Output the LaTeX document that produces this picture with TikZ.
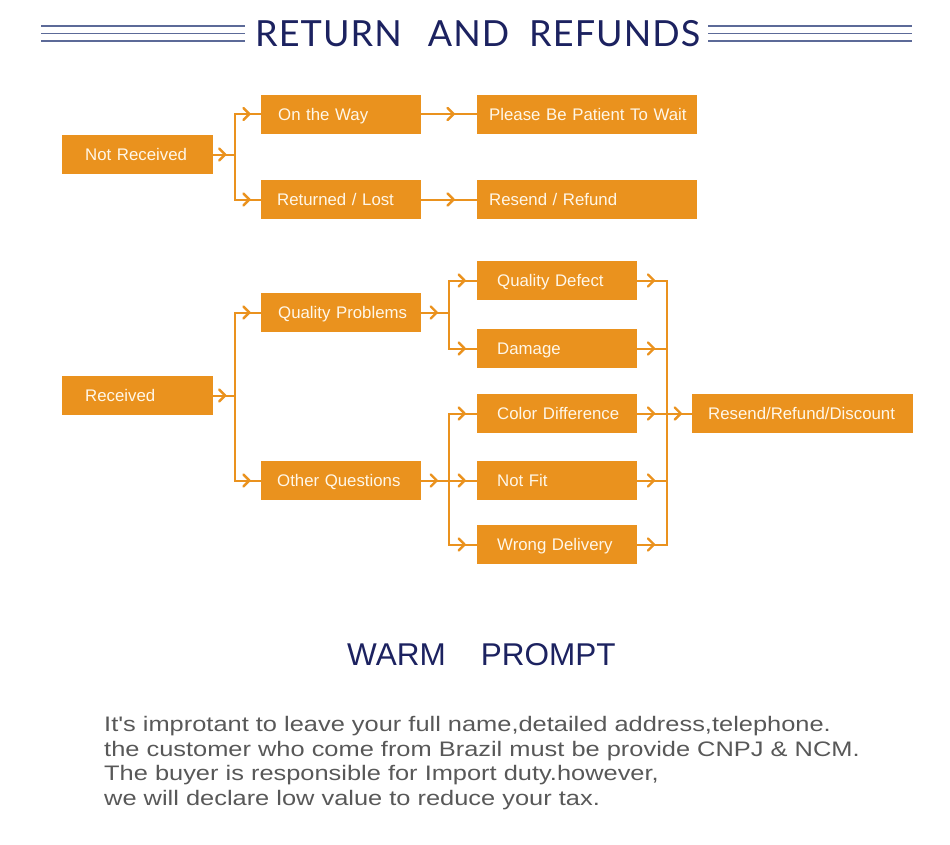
\documentclass[tikz,border=0pt]{standalone}
\usepackage{fontspec}
\setmainfont{Liberation Sans}[Ligatures=TeXOff]
\newfontfamily\titlefont{Lato}[LetterSpace=3]
\newfontfamily\notefont{Liberation Sans}[Ligatures=TeXOff, FakeStretch=1.21]
\usetikzlibrary{arrows.meta,decorations.markings}

\definecolor{boxorange}{RGB}{234,146,30}
\definecolor{boxtext}{RGB}{255,247,232}
\definecolor{navy}{RGB}{28,34,96}
\definecolor{rulegrey}{RGB}{92,106,152}
\definecolor{bodygrey}{RGB}{88,88,88}

\tikzset{
  box/.style 2 args={fill=boxorange, text=boxtext, anchor=west,
    minimum height=39pt, inner sep=0pt, text width=#1, align=left,
    text height=12pt, text depth=0pt,
    font=\fontsize{16.8}{20}\selectfont,
    execute at begin node={\hspace*{#2}}},
  flow/.style={draw=boxorange, line width=2pt, postaction={decorate},
    decoration={markings, mark=at position 0.6 with
      {\arrow{Straight Barb[length=6pt,width=12pt,line width=2.4pt,round]}}}},
  bus/.style={draw=boxorange, line width=2pt, line cap=rect},
  rule/.style={draw=rulegrey, line width=1.6pt},
}

\begin{document}
\begin{tikzpicture}[x=1pt,y=-1pt]
\useasboundingbox (0,0) rectangle (950,844);

% title
\foreach \y in {26,33.5,41}{
  \draw[rule] (41,\y) -- (245,\y);
  \draw[rule] (708,\y) -- (912,\y);
}
\node[font=\titlefont\fontsize{36}{40}\selectfont, text=navy, anchor=base west, inner sep=0pt]
  (title) at (255,46) {RETURN\hspace{26pt}AND\hspace{20pt}REFUNDS};

% not received
\node[box={151pt}{23pt}] (nr) at (62,154.5) {Not Received};
\node[box={160pt}{17pt}] (otw) at (261,114) {On the Way};
\node[box={160pt}{16pt}] (rl) at (261,199.5) {Returned / Lost};
\node[box={220pt}{12pt}] (pbp) at (477,114) {Please Be Patient To Wait};
\node[box={220pt}{12pt}] (rr) at (477,199.5) {Resend / Refund};

\coordinate (j1) at (235,154.5);
\draw[flow] (nr) -- (j1);
\draw[bus] (j1 |- otw.west) -- (j1 |- rl.west);
\draw[flow] (j1 |- otw.west) -- (otw);
\draw[flow] (j1 |- rl.west) -- (rl);
\draw[flow] (otw) -- (pbp);
\draw[flow] (rl) -- (rr);

% received
\node[box={151pt}{23pt}] (rcv) at (62,395.5) {Received};
\node[box={160pt}{17pt}] (qp) at (261,312.5) {Quality Problems};
\node[box={160pt}{16pt}] (oq) at (261,480.5) {Other Questions};
\node[box={160pt}{20pt}] (qd) at (477,280.5) {Quality Defect};
\node[box={160pt}{20pt}] (dm) at (477,348.5) {Damage};
\node[box={160pt}{20pt}] (cd) at (477,413.5) {Color Difference};
\node[box={160pt}{20pt}] (nf) at (477,480.5) {Not Fit};
\node[box={160pt}{20pt}] (wd) at (477,544.5) {Wrong Delivery};
\node[box={221pt}{16pt}] (rrd) at (692,413.5) {Resend/Refund/Discount};

\coordinate (j2) at (235,395.5);
\draw[flow] (rcv) -- (j2);
\draw[bus] (j2 |- qp.west) -- (j2 |- oq.west);
\draw[flow] (j2 |- qp.west) -- (qp);
\draw[flow] (j2 |- oq.west) -- (oq);

\coordinate (j3) at (449,312.5);
\draw[flow] (qp) -- (j3);
\draw[bus] (j3 |- qd.west) -- (j3 |- dm.west);
\draw[flow] (j3 |- qd.west) -- (qd);
\draw[flow] (j3 |- dm.west) -- (dm);

\coordinate (j4) at (449,480.5);
\draw[flow] (oq) -- (j4);
\draw[bus] (j4 |- cd.west) -- (j4 |- wd.west);
\foreach \n in {cd,nf,wd}
  \draw[flow] (j4 |- \n.west) -- (\n);

\coordinate (j5) at (667,413.5);
\draw[bus] (j5 |- qd.east) -- (j5 |- wd.east);
\foreach \n in {qd,dm,cd,nf,wd}
  \draw[flow] (\n) -- (\n.east -| j5);
\draw[flow] (j5) -- (rrd);

% warm prompt
\node[font=\fontsize{31.5}{36}\selectfont, text=navy, anchor=base west, inner sep=0pt]
  (warm) at (347,665) {WARM\hspace{35pt}PROMPT};
\node[font=\notefont\fontsize{21}{24.5}\selectfont, text=bodygrey, anchor=north west,
  align=left, inner sep=0pt] (note) at (104,716.5)
  {It's improtant to leave your full name,detailed address,telephone.\\
   the customer who come from Brazil must be provide CNPJ \& NCM.\\
   The buyer is responsible for Import duty.however,\\
   we will declare low value to reduce your tax.};
\end{tikzpicture}
\end{document}
